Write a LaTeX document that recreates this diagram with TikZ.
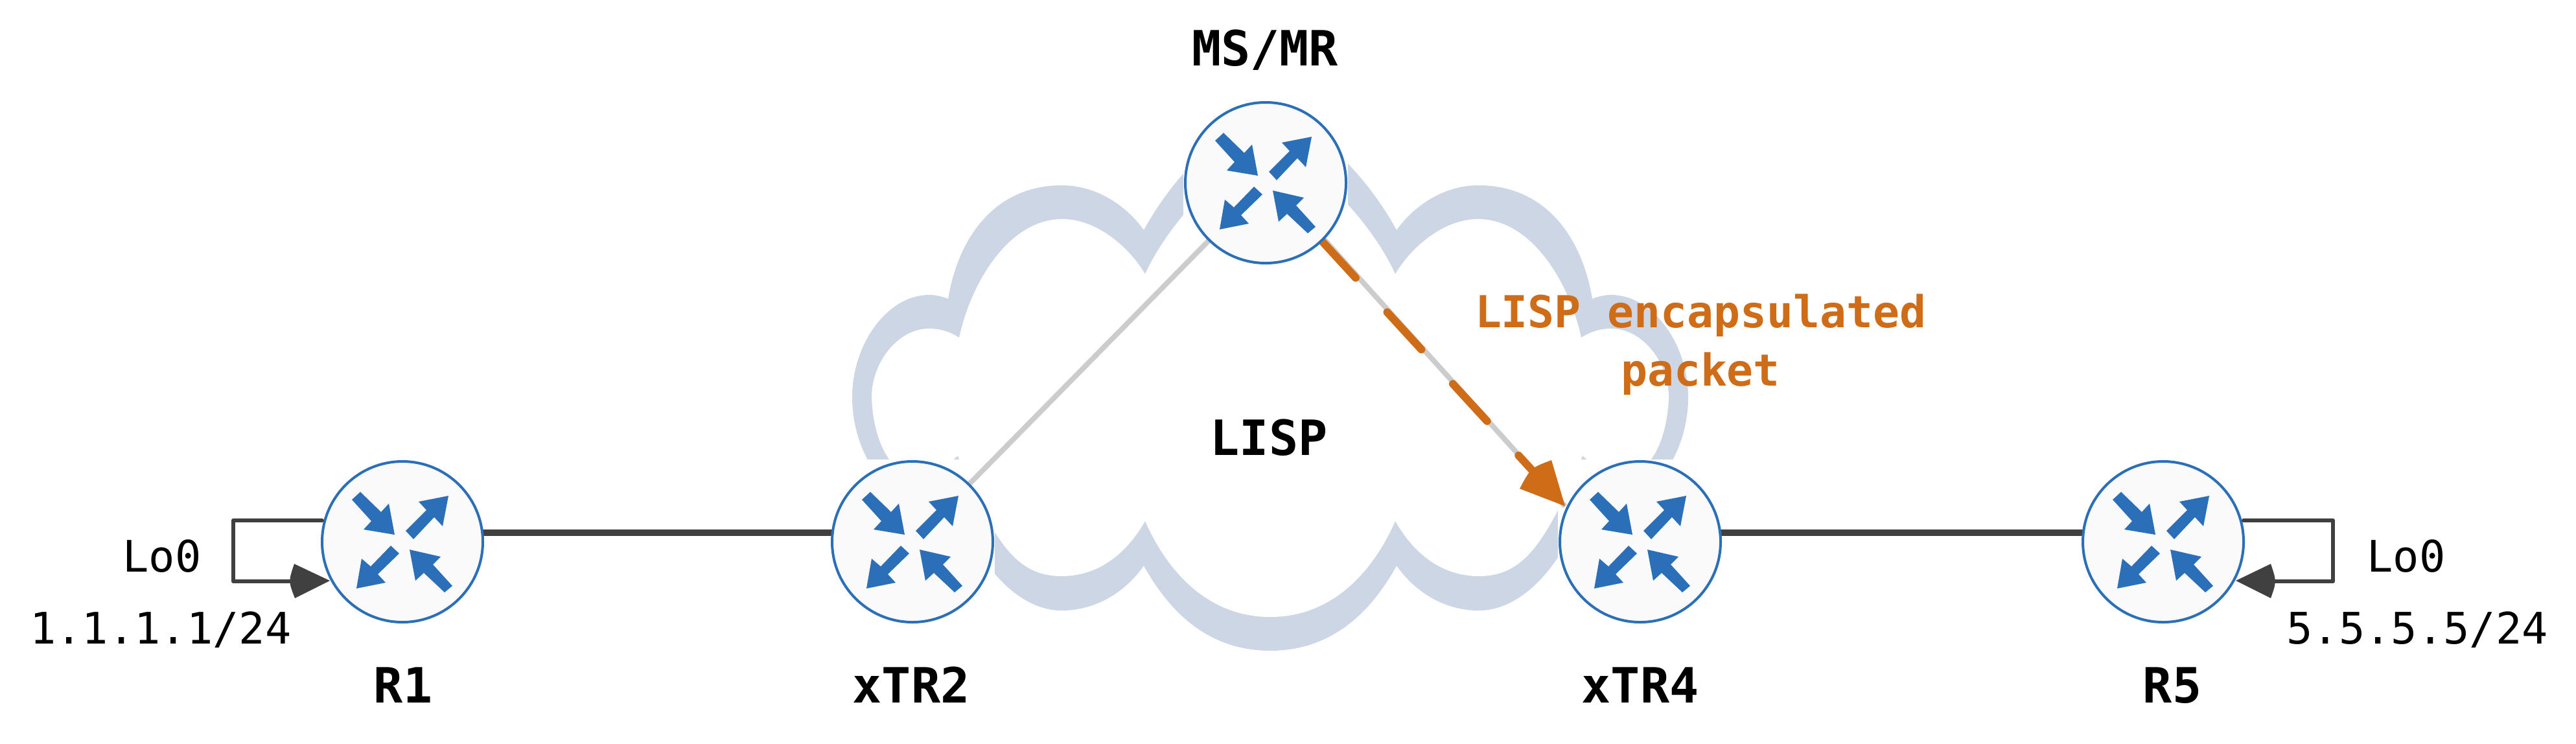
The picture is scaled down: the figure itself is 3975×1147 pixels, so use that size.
\documentclass[tikz,border=0pt]{standalone}
\usepackage{fontspec}
\setmonofont{DejaVu Sans Mono}
\definecolor{cloudc}{HTML}{CDD6E4}
\definecolor{rblue}{HTML}{2B6FB8}
\definecolor{rfill}{HTML}{FAFAFA}
\definecolor{linkc}{HTML}{404040}
\definecolor{greyc}{HTML}{CCCCCC}
\definecolor{orangec}{HTML}{CF6C17}
\tikzset{
  rbox/.style={fill=white,draw=none,shape=rectangle,minimum size=127pt,inner sep=0pt},
  rcirc/.style={circle,draw=rblue,fill=rfill,line width=2pt,minimum size=124pt,inner sep=0pt,outer sep=0pt},
  rname/.style={anchor=base,inner sep=0pt,font=\ttfamily\bfseries\fontsize{37.5}{44}\selectfont,text=black},
  addr/.style={anchor=base,inner sep=0pt,font=\ttfamily\fontsize{33.5}{40}\selectfont,text=black},
  olabel/.style={anchor=base,inner sep=0pt,font=\ttfamily\bfseries\fontsize{34}{40}\selectfont,text=orangec},
  link/.style={draw=linkc,line width=5pt},
  loopl/.style={draw=linkc,line width=3pt,line join=round,line cap=round},
  tun/.style={draw=greyc,line width=4pt},
  enc/.style={draw=orangec,line width=6pt,line cap=round,dash pattern=on 39pt off 36pt},
  pics/rarrows/.style={code={
    \fill[rblue] (-65,-77)--(-78,-65)--(-48,-32)--(-60,-19)--(-12,-11)--(-21,-59)--(-33,-46)--cycle;
    \fill[rblue] (5,-17)--(17,-4)--(49,-38)--(62,-24)--(71,-71)--(25,-62)--(37,-49)--cycle;
    \fill[rblue] (-18,6)--(-5,18)--(-38,50)--(-26,63)--(-71,72)--(-63,26)--(-49,38)--cycle;
    \fill[rblue] (77,68)--(65,78)--(33,48)--(20,60)--(11,12)--(59,23)--(47,35)--cycle;
  }}
}
\begin{document}
\begin{tikzpicture}[x=0.5pt,y=-0.5pt]
\useasboundingbox (0,0) rectangle (3975,1147);
% cloud
\fill[cloudc] (1315,613) .. controls (1315,530) and (1370,455) .. (1434,455)
 .. controls (1445,455) and (1455,458) .. (1463,461)
 .. controls (1480,360) and (1540,286) .. (1638,286)
 .. controls (1695,286) and (1740,320) .. (1765,355)
 .. controls (1800,290) and (1880,190) .. (1960,180)
 .. controls (2040,190) and (2120,290) .. (2155,355)
 .. controls (2180,320) and (2225,286) .. (2282,286)
 .. controls (2380,286) and (2440,360) .. (2457,461)
 .. controls (2465,458) and (2475,455) .. (2486,455)
 .. controls (2550,455) and (2605,530) .. (2605,613)
 .. controls (2605,690) and (2560,790) .. (2440,790)
 .. controls (2405,880) and (2345,942) .. (2282,942)
 .. controls (2230,942) and (2185,915) .. (2155,873)
 .. controls (2115,945) and (2055,1004) .. (1960,1004)
 .. controls (1865,1004) and (1805,945) .. (1765,873)
 .. controls (1735,915) and (1690,942) .. (1638,942)
 .. controls (1575,942) and (1515,880) .. (1480,790)
 .. controls (1360,790) and (1315,690) .. cycle;
\fill[white] (1345,613) .. controls (1345,560) and (1385,507) .. (1434,507)
 .. controls (1452,507) and (1468,513) .. (1480,521)
 .. controls (1500,430) and (1560,338) .. (1639,338)
 .. controls (1695,338) and (1745,385) .. (1767,423)
 .. controls (1795,360) and (1880,250) .. (1960,240)
 .. controls (2040,250) and (2125,360) .. (2153,423)
 .. controls (2175,385) and (2225,338) .. (2281,338)
 .. controls (2360,338) and (2420,430) .. (2440,521)
 .. controls (2452,513) and (2468,507) .. (2486,507)
 .. controls (2535,507) and (2575,560) .. (2575,613)
 .. controls (2572,700) and (2525,780) .. (2442,703)
 .. controls (2385,840) and (2350,889) .. (2282,889)
 .. controls (2230,889) and (2185,860) .. (2153,804)
 .. controls (2115,890) and (2050,952) .. (1960,952)
 .. controls (1870,952) and (1805,890) .. (1767,804)
 .. controls (1735,860) and (1690,889) .. (1638,889)
 .. controls (1570,889) and (1535,840) .. (1478,703)
 .. controls (1395,780) and (1348,700) .. cycle;
% white squares behind the routers
\node[rbox] (bR1) at (621,836) {};
\node[rbox] (bX2) at (1408,836) {};
\node[rbox] (bMS) at (1953,282) {};
\node[rbox] (bX4) at (2531,836) {};
\node[rbox] (bR5) at (3338,836) {};
% router nodes, invisible pass for the anchors
\path (621,836) node[rcirc,draw=none,fill=none] (R1) {}
      (1408,836) node[rcirc,draw=none,fill=none] (X2) {}
      (1953,282) node[rcirc,draw=none,fill=none] (MS) {}
      (2531,836) node[rcirc,draw=none,fill=none] (X4) {}
      (3338,836) node[rcirc,draw=none,fill=none] (R5) {};
\coordinate (tip) at (2415,781);
% links
\draw[link] ([yshift=7pt]R1.east) -- ([yshift=7pt]X2.west);
\draw[link] ([yshift=7pt]X4.east) -- ([yshift=7pt]R5.west);
\draw[tun] (MS.center) -- (X2.center);
\draw[tun] (MS.-44) -- (tip);
\draw[enc] (MS.-46) -- (tip);
% router circles
\foreach \n/\p in {R1/621,X2/1408,X4/2531,R5/3338}{
  \node[rcirc] at (\p,836) {};
  \pic at (\p,836) {rarrows};
}
\node[rcirc] at (1953,282) {};
\pic at (1953,282) {rarrows};
% orange arrow head
\fill[orangec] (tip) -- (2394,710) .. controls (2362,722) .. (2345,754) -- cycle;
% loopbacks
\coordinate (l1a) at (360,803);
\coordinate (l1b) at (360,897);
\coordinate (l5a) at (3600,803);
\coordinate (l5b) at (3600,897);
\coordinate (t1) at (509,896);
\coordinate (t5) at (3450,896);
\draw[loopl] ([yshift=16.5pt]R1.west) -- (l1a) -- (l1b) -- (470,897);
\draw[loopl] ([yshift=16.5pt]R5.east) -- (l5a) -- (l5b) -- (3490,897);
\fill[linkc] (t1) -- (454,870) .. controls (445,897) .. (455,923) -- cycle;
\fill[linkc] (t5) -- (3504,870) .. controls (3513,897) .. (3504,923) -- cycle;
% labels
\node[rname] (nR1) at (622,1084) {R1};
\node[rname] (nX2) at (1406,1084) {xTR2};
\node[rname] (nX4) at (2531,1084) {xTR4};
\node[rname] (nR5) at (3352,1084) {R5};
\node[rname] (nMS) at (1952,101) {MS/MR};
\node[rname] (nL) at (1958,702) {LISP};
\node[addr] (lo1) at (250,882) {Lo0};
\node[addr] (lo5) at (3713,882) {Lo0};
\node[addr] (ip1) at (248,993) {1.1.1.1/24};
\node[addr] (ip5) at (3730,993) {5.5.5.5/24};
\node[olabel] (o1) at (2624,505) {LISP encapsulated};
\node[olabel] (o2) at (2624,595) {packet};
\end{tikzpicture}
\end{document}
